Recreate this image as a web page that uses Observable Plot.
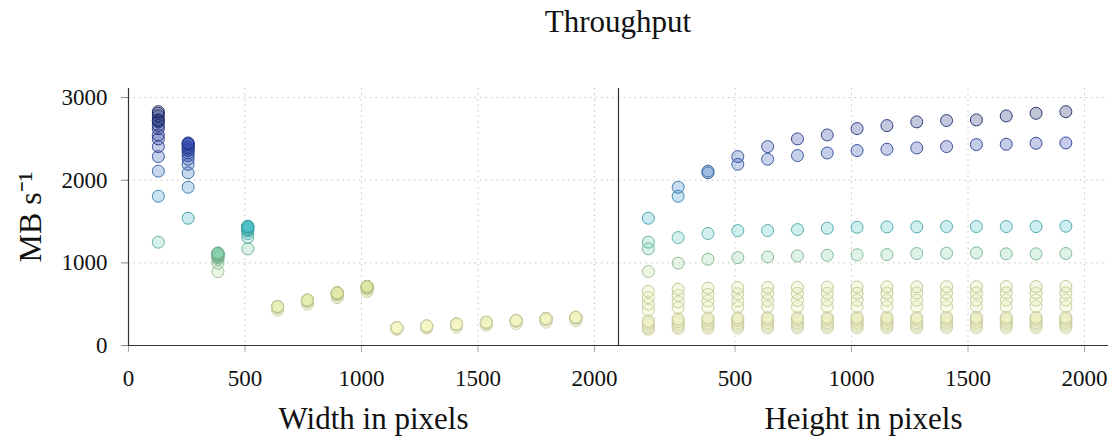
<!DOCTYPE html>
<html>
<head>
<meta charset="utf-8">
<script src="https://cdn.jsdelivr.net/npm/d3@7"></script>
<script src="https://cdn.jsdelivr.net/npm/@observablehq/plot@0.6"></script>
<style>
  body { margin: 0; background: #fff; font-family: "Liberation Serif", serif; }
  #title {
    height: 60px; box-sizing: border-box; padding-left: 128px; padding-right: 3px;
    text-align: center; font-size: 31px; line-height: 44px; color: #111;
  }
</style>
</head>
<body>
<div id="title">Throughput</div>
<div id="chart"></div>
<script>
// Image sizes tested (pixels)
const widths  = [128, 256, 384, 512, 640, 768, 896, 1024, 1152, 1280, 1408, 1536, 1664, 1792, 1920];
const heights = [128, 256, 384, 512, 640, 768, 896, 1024, 1152, 1280, 1408, 1536, 1664, 1792, 1920];

// Throughput in MB/s for one width, listed by height (same order as `heights`)
const at128  = [1250, 1806, 2110, 2286, 2407, 2500, 2548, 2625, 2661, 2706, 2722, 2730, 2778, 2810, 2830];
const at256  = [1540, 1915, 2090, 2193, 2254, 2298, 2330, 2359, 2375, 2391, 2407, 2431, 2435, 2447, 2451];
const at384  = [895, 996, 1044, 1064, 1072, 1084, 1092, 1097, 1100, 1113, 1117, 1121, 1109, 1109, 1113];
const at512  = [1170, 1306, 1355, 1391, 1391, 1403, 1419, 1431, 1435, 1435, 1439, 1439, 1439, 1439, 1443];
const at640  = [428, 455, 463, 466, 468, 469, 470, 470, 471, 471, 471, 472, 472, 472, 472];
const at768  = [500, 528, 538, 542, 544, 545, 546, 547, 547, 548, 548, 548, 549, 549, 549];
const at896  = [580, 608, 620, 625, 628, 630, 632, 633, 634, 635, 636, 636, 637, 637, 637];
const at1024 = [655, 681, 695, 700, 703, 705, 707, 708, 710, 710, 712, 712, 713, 713, 714];
const at1152 = [195, 205, 210, 212, 213, 214, 214, 215, 215, 215, 216, 216, 216, 216, 216];
const at1280 = [210, 224, 230, 232, 233, 234, 234, 235, 235, 235, 236, 236, 236, 236, 236];
const at1408 = [221, 245, 252, 255, 257, 258, 258, 259, 259, 259, 260, 260, 260, 260, 260];
const at1536 = [245, 265, 272, 275, 277, 278, 278, 279, 279, 279, 280, 280, 280, 280, 280];
const at1664 = [265, 288, 296, 299, 301, 302, 302, 303, 303, 303, 304, 304, 304, 304, 304];
const at1792 = [283, 308, 317, 320, 322, 323, 323, 324, 324, 324, 325, 325, 325, 325, 325];
const at1920 = [300, 325, 334, 337, 339, 340, 340, 341, 341, 341, 342, 342, 342, 342, 342];

const byWidth = [at128, at256, at384, at512, at640, at768, at896, at1024,
                 at1152, at1280, at1408, at1536, at1664, at1792, at1920];

const panels = ["Width in pixels", "Height in pixels"];
const xTicks = [500, 1000, 1500, 2000];
const yTicks = [0, 1000, 2000, 3000];
const yLabel = "MB s\u207B\u00B9";

// Sequential palette (yellow → green → blue), stops in MB/s
const colorStops  = [200, 700, 1100, 1450, 1850, 2450, 2850];
const colorRange  = ["#f6f8c8", "#dfe8a6", "#8cd3ab", "#4cc2c9", "#3c92cc", "#3045ad", "#1e2c6d"];
// Outline is a darker shade of the same colour
const outline = d3.scaleLinear(colorStops, colorRange).clamp(true);
const edge = v => d3.color(outline(v)).darker(0.5).formatHex();

// Each measurement appears twice: once against its width, once against its height
const rows = [];
widths.forEach((w, i) => {
  heights.forEach((h, j) => {
    const v = byWidth[i][j];
    rows.push({panel: panels[0], x: w, v});
    rows.push({panel: panels[1], x: h, v});
  });
});
rows.sort((a, b) => a.v - b.v);

const chart = Plot.plot({
  width: 1111,
  height: 377,
  marginLeft: 128,
  marginRight: 3,
  marginTop: 28,
  marginBottom: 92,
  style: {fontFamily: "Liberation Serif, serif", color: "#111", background: "#fff"},
  fx: {domain: panels, padding: 0},
  x: {domain: [0, 2103]},
  y: {domain: [0, 3110]},
  color: {type: "linear", domain: colorStops, range: colorRange, clamp: true},
  marks: [
    Plot.gridY({ticks: yTicks.slice(1), stroke: "#c4c4c4", strokeOpacity: 1, strokeDasharray: "1.5,4"}),
    Plot.gridX({ticks: xTicks, stroke: "#c4c4c4", strokeOpacity: 1, strokeDasharray: "1.5,4"}),
    Plot.axisY({ticks: yTicks, tickFormat: d => String(d), tickSize: 7, tickPadding: 14,
                fontSize: 23, label: null, stroke: "#888", fill: "#111"}),
    Plot.axisX({ticks: xTicks, tickFormat: d => String(d), tickSize: 7, tickPadding: 17,
                fontSize: 23, label: null, stroke: "#aaa", fill: "#111"}),
    Plot.axisX({ticks: [0], tickFormat: d => String(d), tickSize: 7, tickPadding: 17,
                fontSize: 23, label: null, stroke: "#aaa", fill: "#111", facetAnchor: "left"}),
    Plot.axisFx({anchor: "bottom", tickSize: 0, tickPadding: 61, fontSize: 31, label: null, fill: "#111"}),
    Plot.text([{panel: panels[0], t: yLabel}], {
      fx: "panel", text: "t", frameAnchor: "left", textAnchor: "middle", rotate: -90,
      dx: -98, fontSize: 32, fill: "#111"
    }),
    Plot.dot(rows, {
      fx: "panel", x: "x", y: "v", r: 6,
      fill: "v", fillOpacity: 0.28,
      stroke: d => edge(d.v), strokeOpacity: 0.9, strokeWidth: 1
    }),
    Plot.ruleX([0], {stroke: "#333", strokeWidth: 1.2}),
    Plot.ruleY([0], {stroke: "#333", strokeWidth: 1.2})
  ]
});
document.getElementById("chart").append(chart);
</script>
</body>
</html>
